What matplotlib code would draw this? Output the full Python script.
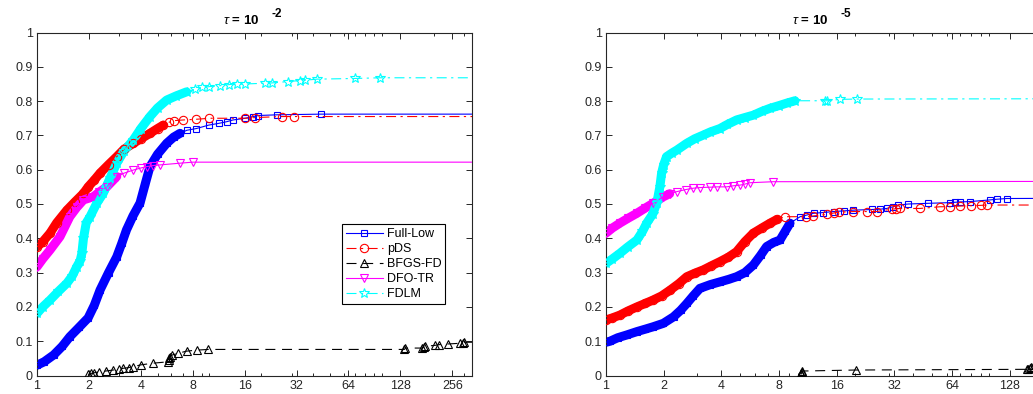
import numpy as np
import matplotlib
matplotlib.use("Agg")
import matplotlib.pyplot as plt
from matplotlib.ticker import FixedLocator, FixedFormatter, NullFormatter

plt.rcParams['font.family'] = ['Liberation Sans', 'DejaVu Sans']
plt.rcParams['mathtext.fontset'] = 'custom'
plt.rcParams['mathtext.rm'] = 'Liberation Sans'
plt.rcParams['mathtext.it'] = 'Liberation Sans:italic'
plt.rcParams['mathtext.bf'] = 'Liberation Sans:bold'

# ─────────────────────────────────────────────
# data : left panel  (tau = 1e-2)
# ─────────────────────────────────────────────
fl_x = [1, 1.1, 1.25, 1.4, 1.55, 1.75, 1.98, 2.15, 2.32, 2.6, 2.9, 3.1, 3.3, 3.6, 3.96, 4.25,
        4.52, 5.0, 5.65, 6.2, 6.75, 7.4, 8.4, 9.9, 11.3, 12.6, 13.7, 16.1, 18, 19.2, 24.6, 44.4, 400]
fl_y = [0.03, 0.04, 0.06, 0.085, 0.113, 0.14, 0.168, 0.205, 0.249, 0.3, 0.346, 0.385, 0.424, 0.465,
        0.503, 0.56, 0.609, 0.645, 0.677, 0.695, 0.706, 0.715, 0.72, 0.73, 0.735, 0.74, 0.745,
        0.75, 0.755, 0.758, 0.76, 0.762, 0.762]

pds_x = [1, 1.08, 1.19, 1.3, 1.49, 1.65, 1.86, 1.98, 2.15, 2.32, 2.6, 2.9, 3.2, 3.62, 4.0, 4.52,
         5.0, 5.4, 5.8, 6.2, 7.05, 8.4, 10, 16.1, 18.4, 26.2, 31.1, 400]
pds_y = [0.375, 0.39, 0.415, 0.445, 0.482, 0.505, 0.531, 0.55, 0.57, 0.59, 0.615, 0.638, 0.66,
         0.677, 0.69, 0.706, 0.72, 0.73, 0.738, 0.743, 0.745, 0.747, 0.75, 0.75, 0.752, 0.755,
         0.755, 0.755]

bf_x = [1.98, 2.05, 2.15, 2.3, 2.5, 2.77, 3.0, 3.16, 3.4, 3.62, 4.0, 4.73, 5.78, 5.8, 5.85, 5.9,
        6.1, 6.6, 7.37, 8.44, 9.86, 135, 137, 170, 175, 178, 204, 215, 243, 285, 296, 300, 400]
bf_y = [0.003, 0.006, 0.008, 0.011, 0.013, 0.016, 0.018, 0.021, 0.023, 0.026, 0.031, 0.036, 0.04,
        0.045, 0.05, 0.055, 0.06, 0.065, 0.071, 0.074, 0.076, 0.076, 0.08, 0.08, 0.083, 0.085,
        0.088, 0.09, 0.092, 0.094, 0.096, 0.097, 0.097]

dfo_x = [1, 1.08, 1.19, 1.36, 1.55, 1.7, 1.86, 2.12, 2.3, 2.54, 2.9, 3.2, 3.62, 4.0, 4.33, 4.7,
         5.17, 6.75, 8.0, 400]
dfo_y = [0.317, 0.34, 0.366, 0.405, 0.463, 0.49, 0.512, 0.521, 0.535, 0.55, 0.58, 0.59, 0.599,
         0.605, 0.609, 0.612, 0.614, 0.619, 0.622, 0.622]

fd_x = [1, 1.08, 1.19, 1.33, 1.49, 1.6, 1.7, 1.78, 1.82, 1.86, 1.93, 2.03, 2.22, 2.42, 2.65, 2.9,
        3.2, 3.62, 4.0, 4.52, 5.0, 5.65, 6.4, 7.37, 8.3, 9.1, 9.9, 11.5, 12.9, 14.4, 16.1, 21,
        23, 28.7, 33.5, 36, 42, 70, 97.6, 400]
fd_y = [0.181, 0.2, 0.22, 0.245, 0.269, 0.29, 0.317, 0.335, 0.356, 0.4, 0.445, 0.463, 0.502,
        0.531, 0.575, 0.619, 0.655, 0.687, 0.72, 0.755, 0.78, 0.803, 0.815, 0.827, 0.835, 0.84,
        0.842, 0.845, 0.848, 0.85, 0.85, 0.852, 0.853, 0.857, 0.86, 0.861, 0.864, 0.866, 0.868,
        0.868]

# ─────────────────────────────────────────────
# data : right panel  (tau = 1e-5)
# ─────────────────────────────────────────────
rfl_x = [1, 1.05, 1.15, 1.28, 1.45, 1.6, 1.76, 1.99, 2.25, 2.45, 2.64, 2.85, 3.09, 3.5, 3.93,
         4.35, 4.8, 5.3, 5.87, 6.4, 6.89, 7.5, 8.09, 8.6, 9.12, 10.3, 11.2, 12.1, 13.5, 15.4,
         17.5, 19.5, 24.5, 27, 29.1, 31.5, 33.5, 37.8, 48, 62.2, 66, 70, 79, 101, 110, 123, 400]
rfl_y = [0.097, 0.1, 0.11, 0.118, 0.128, 0.135, 0.142, 0.152, 0.171, 0.19, 0.21, 0.232, 0.254,
         0.265, 0.273, 0.28, 0.288, 0.3, 0.322, 0.35, 0.376, 0.388, 0.395, 0.42, 0.444, 0.463,
         0.468, 0.473, 0.475, 0.478, 0.48, 0.482, 0.484, 0.485, 0.487, 0.492, 0.497, 0.5, 0.502,
         0.504, 0.505, 0.506, 0.507, 0.512, 0.514, 0.516, 0.517]

rpds_x = [1, 1.08, 1.18, 1.3, 1.45, 1.6, 1.76, 1.95, 2.16, 2.4, 2.64, 2.9, 3.22, 3.55, 3.93, 4.35,
          4.8, 5.3, 5.87, 6.5, 7.17, 7.8, 8.6, 11.1, 12, 14.2, 15.5, 16.5, 19.5, 23, 25.8, 31,
          32.5, 34.3, 43.5, 55.4, 62, 70, 80, 90, 97, 400]
rpds_y = [0.162, 0.168, 0.176, 0.188, 0.2, 0.21, 0.22, 0.232, 0.249, 0.268, 0.288, 0.298, 0.308,
          0.32, 0.332, 0.345, 0.361, 0.39, 0.415, 0.43, 0.444, 0.455, 0.463, 0.463, 0.465, 0.47,
          0.474, 0.476, 0.478, 0.478, 0.478, 0.485, 0.486, 0.487, 0.487, 0.492, 0.492, 0.494,
          0.495, 0.496, 0.497, 0.497]

rbf_x = [10.4, 10.45, 10.5, 10.55, 20.2, 158, 160, 162, 164, 170, 400]
rbf_y = [0.003, 0.006, 0.009, 0.013, 0.016, 0.018, 0.02, 0.023, 0.026, 0.03, 0.04]

rdfo_x = [1, 1.08, 1.18, 1.3, 1.45, 1.6, 1.76, 1.99, 2.15, 2.34, 2.6, 2.85, 3.1, 3.49, 3.8, 4.26,
          4.6, 5.0, 5.3, 5.64, 7.46, 400]
rdfo_y = [0.415, 0.43, 0.444, 0.458, 0.473, 0.488, 0.502, 0.521, 0.53, 0.536, 0.542, 0.546,
          0.548, 0.549, 0.55, 0.55, 0.553, 0.555, 0.558, 0.562, 0.565, 0.566]

rfd_x = [1, 1.08, 1.18, 1.3, 1.45, 1.55, 1.63, 1.75, 1.84, 1.91, 1.95, 2.0, 2.07, 2.2, 2.34, 2.64,
         2.9, 3.22, 3.5, 3.93, 4.3, 4.8, 5.3, 5.87, 6.5, 7.17, 8.0, 8.76, 9.68, 13.9, 14.3, 16.6,
         20.3, 400]
rfd_y = [0.327, 0.34, 0.356, 0.375, 0.395, 0.42, 0.444, 0.47, 0.502, 0.55, 0.59, 0.615, 0.638,
         0.648, 0.657, 0.677, 0.69, 0.701, 0.71, 0.72, 0.732, 0.745, 0.752, 0.759, 0.77, 0.779,
         0.787, 0.794, 0.801, 0.801, 0.801, 0.805, 0.806, 0.807]

labels = ["Full-Low", "pDS", "BFGS-FD", "DFO-TR", "FDLM"]
yticks = [0, 0.1, 0.2, 0.3, 0.4, 0.5, 0.6, 0.7, 0.8, 0.9, 1]

# style per solver: colour, line style, marker, marker size
styles = {
    "Full-Low": ("#0000ff", "-", "s", 5),
    "pDS": ("#ff0000", (0, (9, 4, 2, 4)), "o", 6),
    "BFGS-FD": ("#000000", (0, (9, 6)), "^", 6),
    "DFO-TR": ("#ff00ff", "-", "v", 6),
    "FDLM": ("#00ffff", (0, (9, 4, 2, 4)), "*", 7),
}

GREY = "#262626"


def draw(ax, name, x, y, band_to=None):
    col, ls, mk, ms = styles[name]
    x = np.asarray(x)
    y = np.asarray(y)
    if band_to:
        # dense stretch where the markers overlap into a solid band
        m = x <= band_to
        ax.plot(x[m], y[m], color=col, lw=6.5, solid_capstyle="round",
                solid_joinstyle="round", zorder=2)
    ax.plot(x, y, color=col, ls=ls, lw=0.8, marker=mk, ms=ms, mfc="none",
            mew=0.8, label=name, zorder=3)


def style_axes(ax, xmax, majors, expo):
    ax.set_xscale("log", base=2)
    ax.set_xlim(1, xmax)
    ax.set_ylim(0, 1)
    ax.xaxis.set_major_locator(FixedLocator(majors))
    ax.xaxis.set_major_formatter(FixedFormatter([str(m) for m in majors]))
    minors = [d * 10 ** k for k in range(3) for d in range(1, 10)
              if d * 10 ** k not in (1, 2, 4, 8)]
    ax.xaxis.set_minor_locator(FixedLocator(minors))
    ax.xaxis.set_minor_formatter(NullFormatter())
    ax.set_yticks(yticks)
    ax.set_yticklabels([f"{v:g}" for v in yticks])
    ax.tick_params(which="both", direction="in", top=True, right=True,
                   colors=GREY, labelsize=9, width=0.7)
    ax.tick_params(which="major", length=4, pad=3)
    ax.tick_params(which="minor", length=2.2)
    for s in ax.spines.values():
        s.set_color(GREY)
        s.set_linewidth(0.8)
    # MATLAB style title: "tau = 10" with a high, detached exponent
    ax.annotate(r"$\tau$ = 10", xy=(0.47, 1), xycoords="axes fraction",
                xytext=(0, 6), textcoords="offset points", ha="center",
                va="baseline", fontsize=9.5, fontweight="bold", color="#000000")
    ax.annotate(expo, xy=(0.552, 1), xycoords="axes fraction",
                xytext=(0, 11.5), textcoords="offset points", ha="center",
                va="baseline", fontsize=8.5, fontweight="bold", color="#000000")


fig = plt.figure(figsize=(10.33, 3.94), dpi=100)
ax1 = fig.add_axes([37 / 1033, 18.5 / 394, 435 / 1033, 343 / 394])
ax2 = fig.add_axes([606 / 1033, 18.5 / 394, 435 / 1033, 343 / 394])

# left panel
draw(ax1, "Full-Low", fl_x, fl_y, band_to=7.2)
draw(ax1, "pDS", pds_x, pds_y, band_to=5.6)
draw(ax1, "BFGS-FD", bf_x, bf_y)
draw(ax1, "DFO-TR", dfo_x, dfo_y, band_to=3.0)
draw(ax1, "FDLM", fd_x, fd_y, band_to=7.6)
style_axes(ax1, 333, [1, 2, 4, 8, 16, 32, 64, 128, 256], "-2")

leg = ax1.legend(loc="upper left", bbox_to_anchor=(0.701, 0.441), fontsize=9,
                 numpoints=1, handlelength=3.0, handletextpad=0.3, labelspacing=0.25,
                 borderpad=0.3, borderaxespad=0, fancybox=False, framealpha=1,
                 edgecolor="#000000")
leg.get_frame().set_linewidth(0.8)

# right panel
draw(ax2, "Full-Low", rfl_x, rfl_y, band_to=9.3)
draw(ax2, "pDS", rpds_x, rpds_y, band_to=8.0)
draw(ax2, "BFGS-FD", rbf_x, rbf_y)
draw(ax2, "DFO-TR", rdfo_x, rdfo_y, band_to=2.3)
draw(ax2, "FDLM", rfd_x, rfd_y, band_to=9.7)
style_axes(ax2, 186, [1, 2, 4, 8, 16, 32, 64, 128], "-5")

plt.savefig("out.png", dpi=100)
plt.close()
